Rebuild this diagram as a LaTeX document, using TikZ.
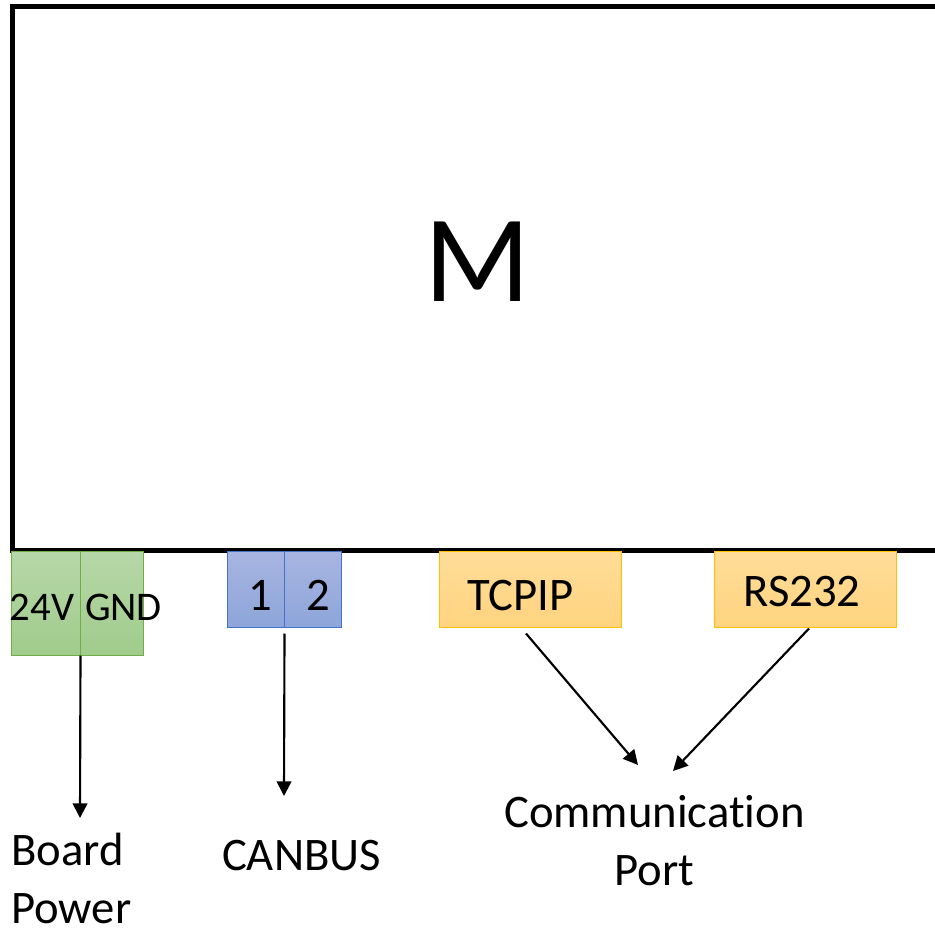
\documentclass[tikz,border=0pt]{standalone}
\usepackage{fontspec}
\setmainfont{Carlito}[Ligatures=NoCommon]
\usetikzlibrary{arrows.meta}
\definecolor{gtop}{RGB}{183,215,168}
\definecolor{gbot}{RGB}{160,204,140}
\definecolor{gedge}{RGB}{112,173,71}
\definecolor{btop}{RGB}{168,181,225}
\definecolor{bbot}{RGB}{141,165,218}
\definecolor{bedge}{RGB}{68,114,196}
\definecolor{otop}{RGB}{255,221,153}
\definecolor{obot}{RGB}{255,211,127}
\definecolor{oedge}{RGB}{255,192,0}
\begin{document}
\begin{tikzpicture}[x=0.75pt,y=-0.75pt,
  greencell/.style={draw=gedge, top color=gtop, bottom color=gbot, line width=0.75pt, minimum height=78pt, inner sep=0pt},
  bluecell/.style={draw=bedge, top color=btop, bottom color=bbot, line width=0.75pt, minimum height=57pt, minimum width=42.75pt, inner sep=0pt},
  orangecell/.style={draw=oedge, top color=otop, bottom color=obot, line width=0.75pt, minimum height=57pt, minimum width=136.5pt, inner sep=0pt},
  lbl/.style={font=\fontsize{35}{43}\selectfont, inner sep=0pt},
  smalllbl/.style={font=\fontsize{30.5}{36}\selectfont, inner sep=0pt},
  arr/.style={-{Triangle[length=11pt,width=11pt]}, line width=1.6pt}]
\useasboundingbox (0,0) rectangle (935,930);
\clip (0,0) rectangle (935,930);
% main board
\draw[line width=3.75pt] (12,7) rectangle (960,550);
\node[font=\fontsize{93}{110}\selectfont, inner sep=0pt, anchor=base] (m) at (478,302) {M};
% power connector
\node[greencell, minimum width=51.75pt] (ga) at (45.5,603) {};
\node[greencell, minimum width=47.25pt] (gb) at (111.5,603) {};
\node[smalllbl, anchor=base] (t24) at (42,620) {24V};
\node[smalllbl, anchor=base] (tgnd) at (123.5,620) {GND};
% canbus connector
\node[bluecell] (c1) at (255.5,589) {};
\node[bluecell] (c2) at (312.5,589) {};
\node[lbl, anchor=base] (t1) at (260,610) {1};
\node[lbl, anchor=base] (t2) at (318,610) {2};
% comm ports
\node[orangecell] (tcp) at (530,589) {};
\node[orangecell] (rs) at (805,589) {};
\node[lbl, anchor=base] (ttcp) at (520.5,610) {TCPIP};
\node[lbl, anchor=base] (trs) at (802,606) {RS232};
% labels
\node[lbl, align=left, anchor=base west] (bp) at (11,923) {Board\\Power};
\node[lbl, anchor=base] (can) at (301.5,870) {CANBUS};
\node[lbl, align=center, anchor=base] (cp) at (654.5,885) {Communication\\Port};
% arrow ends
\coordinate (bpend) at (80,818);
\coordinate (canend) at (284,796);
\coordinate (cpend1) at (638,765);
\coordinate (cpend2) at (673,771);
% arrows
\draw[arr] (ga.south east) -- (bpend);
\draw[arr] ([yshift=-4.5pt]c1.south east) -- (canend);
\draw[arr] ([xshift=-3pt,yshift=-4.5pt]tcp.south) -- (cpend1);
\draw[arr] ([xshift=3pt,yshift=-0.75pt]rs.south) -- (cpend2);
\end{tikzpicture}
\end{document}
